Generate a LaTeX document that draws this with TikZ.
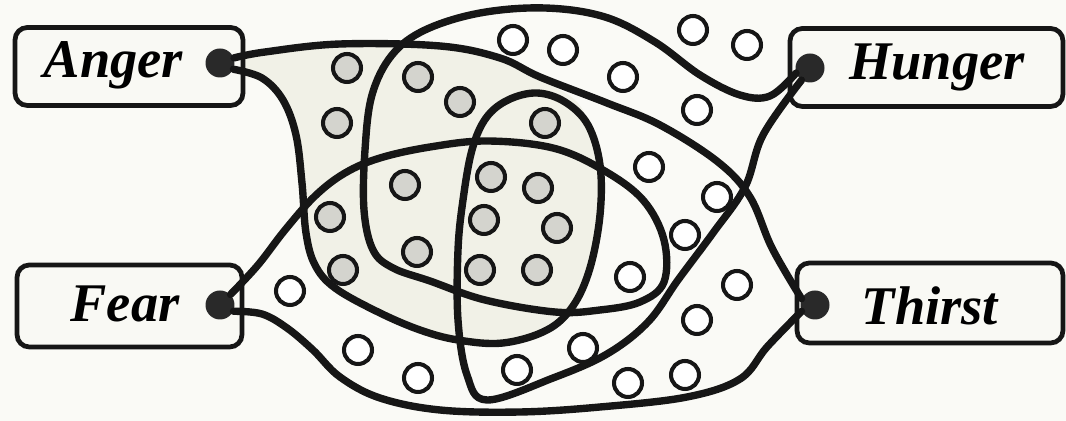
\documentclass[tikz,border=0pt]{standalone}
\usepackage{fontspec}
\setmainfont{Liberation Serif}
\usetikzlibrary{positioning}

\definecolor{ink}{RGB}{22,22,22}
\definecolor{paper}{RGB}{250,250,246}
\definecolor{boxfill}{RGB}{249,249,244}
\definecolor{areafill}{RGB}{241,241,231}
\definecolor{cellgray}{RGB}{212,212,206}

\begin{document}
\begin{tikzpicture}[x=0.02cm, y=-0.02cm,
    drive/.style={draw=ink, line width=2.7pt, rounded corners=7pt, fill=boxfill, minimum height=1.56cm},
    word/.style={anchor=base, inner sep=0pt, font=\fontsize{31}{31}\selectfont\bfseries\itshape},
    hub/.style={circle, fill=ink!92, minimum size=0.58cm, inner sep=0pt},
    cell/.style={circle, draw=ink, line width=2.3pt, fill=white, minimum size=0.56cm, inner sep=0pt},
    active/.style={cell, fill=cellgray},
    tract/.style={draw=ink, line width=4.2pt, line cap=round, line join=round}]
    \useasboundingbox[fill=paper] (0,0) rectangle (1066,421);
    % Shaded area of the anger loop
    \fill[areafill] plot[smooth cycle, tension=0.6] coordinates {(222,63) (265,52) (340,44) (440,46) (500,58) (540,80) (575,100) (592,130) (600,165) (600,215) (590,268) (573,306) (547,330) (503,343) (458,340) (420,330) (378,312) (335,288) (315,265) (306,233) (302,183) (296,135) (283,100) (262,78)};
    % Drive boxes
    \node[drive, minimum width=4.56cm] (anger) at (129,66.5) {};
    \node[drive, minimum width=5.46cm] (hunger) at (926.5,67.5) {};
    \node[drive, minimum width=4.50cm, minimum height=1.64cm] (fear) at (129.5,306) {};
    \node[drive, minimum width=5.32cm, minimum height=1.60cm] (thirst) at (930,303) {};
    \node[word] (angerlbl) at (113.5,78) {Anger};
    \node[word] (hungerlbl) at (937,80) {Hunger};
    \node[word] (fearlbl) at (125,322) {Fear};
    \node[word] (thirstlbl) at (930,325) {Thirst};
    % Dots
    \node[hub] (adot) at (220,63) {};
    \node[hub] (hdot) at (810,68) {};
    \node[hub] (fdot) at (220,305) {};
    \node[hub] (tdot) at (815,305) {};
    % Tracts
    \draw[tract] plot[smooth, tension=0.6] coordinates {(adot.20) (265,52) (340,44) (440,46) (500,58) (540,77) (607,103) (660,125) (718,162) (750,197) (772,248) (tdot.155)};
    \draw[tract] plot[smooth, tension=0.6] coordinates {(fdot.45) (258,265) (285,230) (315,196) (345,173) (380,158) (430,147) (487,141) (553,148) (603,170) (643,200) (664,240) (664,282) (640,302) (600,310) (555,312) (485,300) (430,281) (393,268) (373,250) (364,210) (365,150) (372,95) (392,55) (425,30) (480,13) (545,8) (605,17) (655,42) (700,75) (740,95) (770,96) (hdot.200)};
    \draw[tract] plot[smooth, tension=0.6] coordinates {(adot.-25) (262,78) (283,100) (296,135) (302,183) (306,233) (315,265) (335,288) (378,312) (420,330) (458,340) (503,343) (547,330) (573,306) (590,268) (600,215) (600,165) (588,125) (565,102) (537,93) (508,100) (486,118) (472,150) (463,200) (458,250) (458,320) (467,375) (487,400) (553,378) (607,354) (648,322) (678,280) (713,233) (745,187) (763,135) (hdot.235)};
    \draw[tract] plot[smooth, tension=0.6] coordinates {(fdot.-25) (262,314) (287,328) (313,350) (340,377) (380,398) (440,410) (520,412) (600,407) (687,397) (740,379) (767,347) (tdot.205)};
    % Cells
    \foreach \x/\y [count=\i] in {347/68, 337/123, 418/77, 460/102, 545/123, 405/185, 330/217, 417/252, 343/270, 491/177, 538/188, 484/220, 557/228, 480/270, 537/270}
        \node[active] (a\i) at (\x,\y) {};
    \foreach \x/\y [count=\i] in {513/40, 563/50, 623/77, 693/30, 747/45, 697/110, 649/167, 717/197, 685/235, 737/285, 697/320, 630/277, 583/348, 517/370, 628/383, 685/375, 418/378, 358/350, 290/291}
        \node[cell] (w\i) at (\x,\y) {};
\end{tikzpicture}
\end{document}
